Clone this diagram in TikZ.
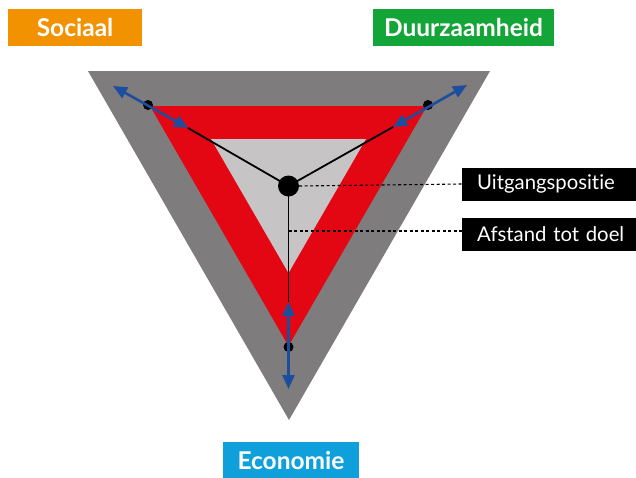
\documentclass[tikz,border=0pt]{standalone}
\usepackage{fontspec}
\setmainfont{Lato}[Ligatures=NoCommon]
\usetikzlibrary{arrows.meta}
\definecolor{outergray}{HTML}{7E7C7C}
\definecolor{signred}{HTML}{E30613}
\definecolor{innergray}{HTML}{C6C4C4}
\definecolor{arrowblue}{HTML}{1D4E9E}
\definecolor{sorange}{HTML}{F39200}
\definecolor{sgreen}{HTML}{13A538}
\definecolor{sblue}{HTML}{0FA0DC}
\tikzset{
  toplabel/.style={text=white, font=\fontsize{24.5}{26}\selectfont\bfseries, inner sep=0pt, minimum height=37pt},
  blacklabel/.style={fill=black, text=white, font=\fontsize{20.3}{22}\selectfont, anchor=west, inner xsep=15pt, inner ysep=0pt, minimum height=33pt, text width=175pt, align=left},
  dot/.style={circle, fill=black, inner sep=0pt, minimum size=#1},
  spoke/.style={black, line width=1.8pt},
  twoway/.style={arrowblue, line width=2.6pt, {Triangle[length=14pt,width=12pt]}-{Triangle[length=14pt,width=12pt]}},
  leader/.style={black, line width=1.1pt, dash pattern=on 3pt off 2.5pt}
}
\begin{document}
\begin{tikzpicture}[x=1pt,y=-1pt]
\useasboundingbox (0,0) rectangle (636,477);
% triangles
\fill[outergray] (88,71) -- (490,71) -- (289,420) -- cycle;
\fill[signred] (150,106) -- (427,106) -- (288.5,346) -- cycle;
\fill[innergray] (211,139) -- (366,139) -- (288.5,273) -- cycle;
% key points
\coordinate (c) at (288.5,186);
\node[dot=10pt] (dl) at (148,105) {};
\node[dot=10pt] (dr) at (428,105) {};
\node[dot=10pt] (db) at (288.5,347) {};
\coordinate (ilo) at (113,86);
\coordinate (ili) at (188,128);
\coordinate (iro) at (467,85);
\coordinate (iri) at (393,127);
\coordinate (ibi) at (288.5,302);
\coordinate (ibo) at (288.5,389);
\coordinate (v) at (288.5,231);
% spokes
\draw[spoke] (c) -- (ili);
\draw[spoke] (c) -- (iri);
\draw[spoke] (c) -- (ibi);
\node[dot=21pt] (center) at (c) {};
% arrows
\draw[twoway] (ilo) -- (ili);
\draw[twoway] (iro) -- (iri);
\draw[twoway] (ibi) -- (ibo);
% labels
\node[toplabel, fill=sorange, minimum width=134pt] (soc) at (75,27.5) {Sociaal};
\node[toplabel, fill=sgreen, minimum width=181pt] (duu) at (463.5,27.5) {Duurzaamheid};
\node[toplabel, fill=sblue, minimum width=136pt, minimum height=36pt] (eco) at (291,460) {Economie};
\node[blacklabel] (uit) at (462,184) {Uitgangspositie};
\node[blacklabel] (afs) at (462,234.5) {Afstand tot doel};
% leaders
\draw[leader] (center.east) -- (uit.west);
\draw[leader] (v) -- (afs.west |- v);
\end{tikzpicture}
\end{document}
